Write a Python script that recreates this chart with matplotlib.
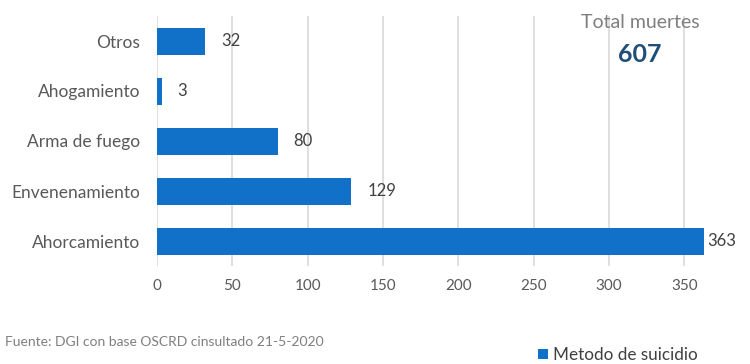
import matplotlib.pyplot as plt

plt.rcParams['font.family'] = ['Lato', 'DejaVu Sans']

metodos = ["Ahorcamiento", "Envenenamiento", "Arma de fuego", "Ahogamiento", "Otros"]
muertes = [363, 129, 80, 3, 32]
total = 607
ticks = [0, 50, 100, 150, 200, 250, 300, 350]

bar_color = "#1170C8"
text_color = "#595959"

fig = plt.figure(figsize=(7.5, 3.64), dpi=100)
ax = fig.add_axes([157 / 750, 1 - 266 / 364, (725 - 157) / 750, 250 / 364])

bars = ax.barh(range(len(metodos)), muertes, height=0.54, color=bar_color,
               label="Metodo de suicidio", zorder=3)
for b, v in zip(bars, muertes):
    # keep the label inside the chart area for the longest bar
    x = min(b.get_width() + 10.6, 365)
    ax.text(x, b.get_y() + b.get_height() / 2, str(v),
            va="center", ha="left", fontsize=12, color="#404040")

ax.set_yticks(range(len(metodos)))
ax.set_yticklabels(metodos, fontsize=12.5, color=text_color)
ax.set_xticks(ticks)
ax.set_xticklabels([str(t) for t in ticks], fontsize=11, color=text_color)
ax.set_xlim(0, 377)
ax.set_ylim(-0.5, 4.5)
ax.tick_params(length=0, pad=12)
ax.tick_params(axis="x", pad=9)
ax.grid(axis="x", color="#D9D9D9", linewidth=1.2, zorder=0)
for s in ax.spines.values():
    s.set_visible(False)

fig.text(640 / 750, 1 - 22 / 364, "Total muertes", ha="center", va="center",
         fontsize=14, color="#7F7F7F")
fig.text(640 / 750, 1 - 55 / 364, str(total), ha="center", va="center",
         fontsize=18, fontweight="bold", color="#1F4E79")

fig.text(5 / 750, 1 - 342 / 364, "Fuente: DGI con base OSCRD cinsultado 21-5-2020",
         ha="left", va="center", fontsize=10, color="#7F7F7F")

fig.legend(loc="center left", bbox_to_anchor=(529 / 750, 1 - 355 / 364),
           frameon=False, fontsize=12.3, handlelength=0.6, handleheight=0.6,
           handletextpad=0.3, borderpad=0, labelcolor="#404040")

fig.savefig("out.png", dpi=100)
